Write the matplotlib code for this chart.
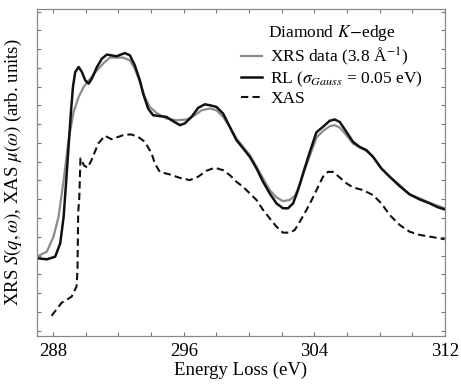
import matplotlib
matplotlib.use("Agg")
import matplotlib.pyplot as plt
from matplotlib.ticker import MultipleLocator, NullFormatter

plt.rcParams['font.family'] = ['Liberation Serif', 'DejaVu Serif']
plt.rcParams['mathtext.fontset'] = 'stix'

# XRS data (gray)
xrs_e = [287.00, 287.61, 288.02, 288.33, 288.64, 288.94, 289.25, 289.56, 289.86, 290.27,
         290.68, 291.09, 291.47, 292.29, 292.70, 293.00, 293.31, 293.62, 293.92, 294.33,
         294.94, 295.56, 296.17, 296.68, 297.09, 297.60, 298.01, 298.41, 298.82, 299.23,
         299.64, 300.05, 300.46, 300.86, 301.27, 301.68, 302.08, 302.49, 302.80, 303.11,
         303.41, 303.72, 304.13, 304.53, 304.94, 305.25, 305.56, 305.97, 306.37, 306.78,
         307.19, 307.60, 308.11, 308.62, 309.23, 309.84, 310.46, 311.07, 311.99]
xrs_y = [2.94, 3.21, 4.01, 5.07, 7.02, 9.15, 10.65, 11.45, 11.98, 12.43,
         12.87, 13.26, 13.55, 13.55, 13.40, 12.96, 12.25, 11.45, 10.92, 10.60,
         10.30, 10.21, 10.25, 10.48, 10.74, 10.84, 10.74, 10.39, 9.86, 9.24,
         8.79, 8.35, 7.73, 7.11, 6.49, 6.10, 5.90, 5.96, 6.17, 6.76,
         7.55, 8.30, 9.28, 9.64, 9.89, 9.95, 9.82, 9.41, 8.97, 8.76,
         8.58, 8.26, 7.64, 7.20, 6.76, 6.26, 6.05, 5.81, 5.52]

# RL (black)
rl_e = [287.00, 287.61, 288.12, 288.43, 288.64, 288.80, 288.94, 289.08, 289.21, 289.35,
        289.56, 289.76, 289.96, 290.17, 290.37, 290.68, 290.98, 291.29, 291.88, 292.39,
        292.70, 293.00, 293.31, 293.51, 293.82, 294.12, 294.53, 294.94, 295.35, 295.76,
        296.06, 296.48, 296.88, 297.29, 297.60, 298.01, 298.41, 298.82, 299.23, 299.64,
        300.05, 300.46, 300.86, 301.27, 301.68, 302.08, 302.39, 302.70, 303.00, 303.31,
        303.72, 304.13, 304.53, 304.94, 305.25, 305.56, 305.97, 306.37, 306.78, 307.19,
        307.60, 308.11, 308.62, 309.23, 309.84, 310.46, 311.07, 311.58, 311.99]
rl_y = [2.86, 2.80, 2.94, 3.65, 5.07, 7.02, 8.79, 10.57, 11.98, 12.78,
        13.05, 12.78, 12.34, 12.16, 12.43, 13.05, 13.49, 13.71, 13.62, 13.79,
        13.67, 13.14, 12.34, 11.63, 10.83, 10.48, 10.43, 10.39, 10.16, 9.95,
        10.04, 10.39, 10.87, 11.06, 11.01, 10.92, 10.57, 9.86, 9.15, 8.71,
        8.26, 7.64, 6.93, 6.31, 5.78, 5.52, 5.52, 5.78, 6.49, 7.38,
        8.51, 9.57, 9.86, 10.18, 10.25, 10.12, 9.59, 9.06, 8.79, 8.62,
        8.26, 7.64, 7.20, 6.70, 6.26, 5.99, 5.78, 5.57, 5.46]

# XAS (dashed)
xas_e = [287.90, 288.51, 289.13, 289.43, 289.49, 289.53, 289.60, 289.67, 289.90, 290.11,
         290.35, 290.76, 291.17, 291.58, 291.98, 292.39, 292.80, 293.21, 293.62, 294.03,
         294.23, 294.53, 295.15, 295.76, 296.37, 296.88, 297.39, 297.90, 298.41, 298.82,
         299.23, 299.64, 300.05, 300.46, 300.86, 301.27, 301.68, 302.08, 302.49, 302.80,
         303.11, 303.52, 303.84, 304.18, 304.53, 304.84, 305.15, 305.56, 305.97, 306.37,
         306.98, 307.60, 308.11, 308.62, 309.23, 309.84, 310.46, 311.07, 311.99]
xas_y = [-0.21, 0.48, 0.81, 1.35, 2.23, 5.27, 6.13, 8.18, 7.79, 7.68,
         8.09, 8.97, 9.38, 9.20, 9.32, 9.45, 9.45, 9.32, 9.06, 8.44,
         7.91, 7.46, 7.32, 7.14, 7.02, 7.20, 7.52, 7.68, 7.55, 7.29,
         6.93, 6.66, 6.31, 5.96, 5.43, 4.98, 4.54, 4.22, 4.22, 4.36,
         4.80, 5.43, 5.96, 6.57, 7.20, 7.46, 7.46, 7.16, 6.85, 6.63,
         6.49, 6.22, 5.78, 5.16, 4.63, 4.27, 4.10, 4.01, 3.87]

labels = ["XRS data (3.8 Å$^{-1}$)", "RL ($\\sigma_{Gauss}$ = 0.05 eV)", "XAS"]
xticks = [288, 296, 304, 312]

fig = plt.figure(figsize=(4.61, 3.91), dpi=100)
ax = fig.add_axes([0.080, 0.141, 0.885, 0.836])

ax.plot(xrs_e, xrs_y, color='#8c8c8c', lw=1.6, label=labels[0], solid_joinstyle='round')
ax.plot(rl_e, rl_y, color='#111111', lw=1.8, label=labels[1], solid_joinstyle='round')
ax.plot(xas_e, xas_y, color='#111111', lw=1.5, ls=(0, (3.5, 2)), label=labels[2])

ax.set_xlim(287.0, 312.0)
ax.set_ylim(-1.28, 16.14)
ax.set_xticks(xticks)
ax.xaxis.set_minor_locator(MultipleLocator(2))
ax.yaxis.set_major_locator(MultipleLocator(1))
ax.yaxis.set_major_formatter(NullFormatter())
ax.tick_params(which='both', direction='in', top=True, right=True, length=3,
               width=0.8, color='#777777', labelsize=13.5, pad=5)
for s in ax.spines.values():
    s.set_color('#888888')
    s.set_linewidth(0.9)

ax.set_xlabel("Energy Loss (eV)", fontsize=13.5, labelpad=1)
ax.set_ylabel("XRS $S(q,\\omega)$, XAS $\\mu(\\omega)$ (arb. units)", fontsize=13.5, labelpad=4)

leg = ax.legend(title="Diamond $K\\!-\\!$edge", loc='upper right', frameon=False,
                fontsize=12.5, title_fontsize=12.5, handlelength=1.2, handletextpad=0.5,
                labelspacing=0.12, borderaxespad=0.0, borderpad=0.2,
                bbox_to_anchor=(0.955, 0.967))

fig.savefig("out.png", dpi=100)
